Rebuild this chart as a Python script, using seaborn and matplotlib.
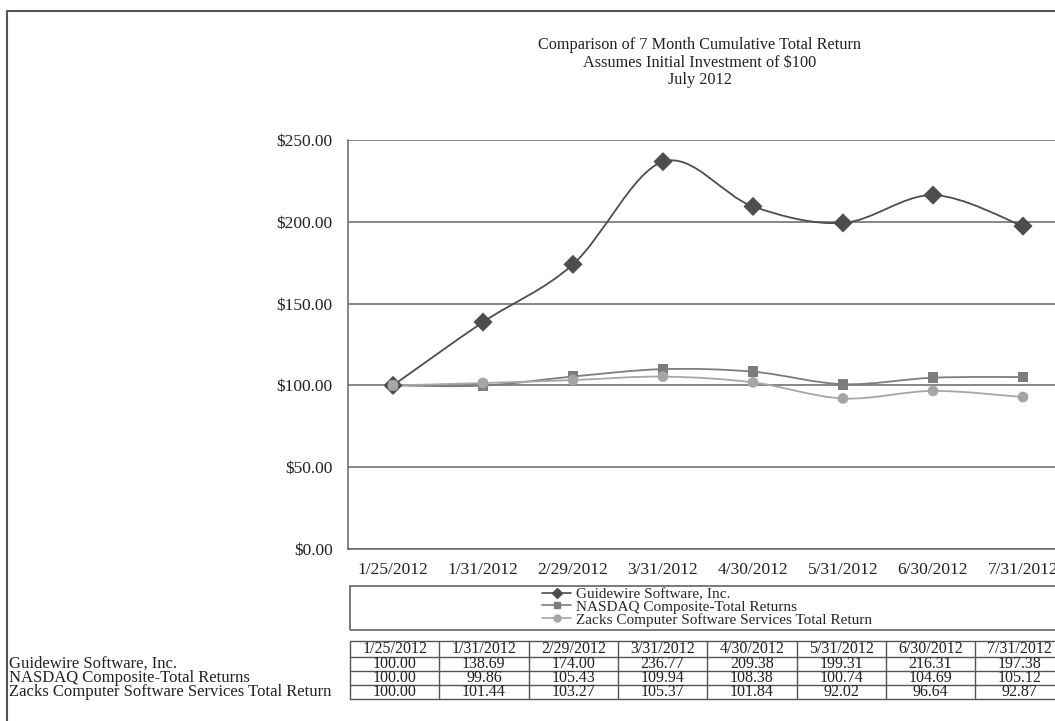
import numpy as np
import pandas as pd
import matplotlib
matplotlib.use("Agg")
import matplotlib.pyplot as plt
from matplotlib.path import Path
from matplotlib.patches import PathPatch, Rectangle
from matplotlib.lines import Line2D
import seaborn as sns

dates = ["1/25/2012", "1/31/2012", "2/29/2012", "3/31/2012",
         "4/30/2012", "5/31/2012", "6/30/2012", "7/31/2012"]
guidewire = [100.00, 138.69, 174.00, 236.77, 209.38, 199.31, 216.31, 197.38]
nasdaq = [100.00, 99.86, 105.43, 109.94, 108.38, 100.74, 104.69, 105.12]
zacks = [100.00, 101.44, 103.27, 105.37, 101.84, 92.02, 96.64, 92.87]
series_names = ["Guidewire Software, Inc.",
                "NASDAQ Composite-Total Returns",
                "Zacks Computer Software Services Total Return"]
y_ticks = [0, 50, 100, 150, 200, 250]

W, H = 1055, 721
colors = ["#4d4d4d", "#7d7d7d", "#a6a6a6"]
markers = ["D", "s", "o"]
msizes = [95, 60, 60]

sns.set_theme(style="white")
plt.rcParams["font.family"] = ["Liberation Serif", "DejaVu Serif"]

df = pd.DataFrame({
    "pos": np.tile(np.arange(len(dates)), 3),
    "series": np.repeat(series_names, len(dates)),
    "value": guidewire + nasdaq + zacks,
})


def fx(x):
    return x / W


def fy(y):
    return 1 - y / H


def smooth_path(xs, ys):
    # bezier rendering of a smoothed line (Excel style), passes through each point
    pts = np.column_stack([xs, ys]).astype(float)
    n = len(pts)
    verts, codes = [pts[0]], [Path.MOVETO]
    for i in range(n - 1):
        p0 = pts[max(i - 1, 0)]
        p1 = pts[i]
        p2 = pts[i + 1]
        p3 = pts[min(i + 2, n - 1)]
        verts += [p1 + (p2 - p0) / 6, p2 - (p3 - p1) / 6, p2]
        codes += [Path.CURVE4] * 3
    return Path(verts, codes)


fig = plt.figure(figsize=(W / 100, H / 100), dpi=100)
ax = fig.add_axes([fx(348), fy(549), fx(1068 - 348), (549 - 140) / H])

for name, c in zip(series_names, colors):
    sub = df[df["series"] == name]
    ax.add_patch(PathPatch(smooth_path(sub["pos"], sub["value"]),
                           facecolor="none", edgecolor=c, lw=1.3, zorder=3))

sns.scatterplot(data=df, x="pos", y="value", hue="series", style="series",
                size="series", sizes=dict(zip(series_names, msizes)),
                palette=dict(zip(series_names, colors)),
                markers=dict(zip(series_names, markers)),
                linewidth=0, legend=False, ax=ax, zorder=4)

ax.set_xlim(-0.5, len(dates) - 0.5)
ax.set_ylim(0, 250)
ax.set_yticks(y_ticks)
ax.set_yticklabels([f"${v:.2f}" for v in y_ticks])
ax.set_xticks(range(len(dates)))
ax.set_xticklabels(dates)
ax.set_xlabel("")
ax.set_ylabel("")
ax.yaxis.grid(True, color="#666666", lw=1.1)
ax.set_axisbelow(True)
for s in ["top", "right"]:
    ax.spines[s].set_visible(False)
for s in ["left", "bottom"]:
    ax.spines[s].set_color("#666666")
    ax.spines[s].set_linewidth(1.1)
ax.tick_params(axis="y", direction="out", length=3, width=1, color="#666666",
               pad=8, labelsize=12.5, labelcolor="#222222")
ax.tick_params(axis="x", direction="in", length=3, width=1, color="#666666",
               pad=9, labelsize=12.5, labelcolor="#222222")

# title
for i, line in enumerate(["Comparison of 7 Month Cumulative Total Return",
                          "Assumes Initial Investment of $100",
                          "July 2012"]):
    fig.text(fx(700), fy(45 + i * 17.5), line, ha="center", va="center",
             fontsize=11.7, color="#222222")

# outer frame
fig.add_artist(Line2D([fx(7), fx(W)], [fy(11), fy(11)], color="#555555", lw=1.5))
fig.add_artist(Line2D([fx(7), fx(7)], [fy(11), fy(H)], color="#555555", lw=1.5))

# legend box
fig.add_artist(Rectangle((fx(350), fy(630)), fx(720), (630 - 586) / H,
                         fill=False, edgecolor="#555555", lw=1.1))
handles = [Line2D([0], [0], color=c, marker=m, markersize=5, lw=1.2)
           for c, m in zip(colors, markers)]
fig.legend(handles, series_names, loc="center", bbox_to_anchor=(fx(707), fy(607)),
           frameon=False, fontsize=11, handlelength=1.9, handletextpad=0.3,
           labelspacing=-0.05, borderpad=0)

# data table
col_left, col_w = 350, 89.3
row_edges = [641, 657, 671, 685, 699]
table_rows = [guidewire, nasdaq, zacks]
for yy in row_edges:
    fig.add_artist(Line2D([fx(col_left), fx(col_left + col_w * len(dates))],
                          [fy(yy), fy(yy)], color="#555555", lw=1))
for j in range(len(dates) + 1):
    xx = col_left + j * col_w
    fig.add_artist(Line2D([fx(xx), fx(xx)], [fy(row_edges[0]), fy(row_edges[-1])],
                          color="#555555", lw=1))
for j, d in enumerate(dates):
    cx = col_left + (j + 0.5) * col_w
    fig.text(fx(cx), fy((row_edges[0] + row_edges[1]) / 2), d, ha="center",
             va="center", fontsize=11.5, color="#222222")
    for r, vals in enumerate(table_rows):
        fig.text(fx(cx), fy((row_edges[r + 1] + row_edges[r + 2]) / 2), f"{vals[j]:.2f}",
                 ha="center", va="center", fontsize=11.5, color="#222222")
for r, name in enumerate(series_names):
    fig.text(fx(9), fy((row_edges[r + 1] + row_edges[r + 2]) / 2), name, ha="left",
             va="center", fontsize=12, color="#222222")

fig.savefig("out.png", dpi=100)
